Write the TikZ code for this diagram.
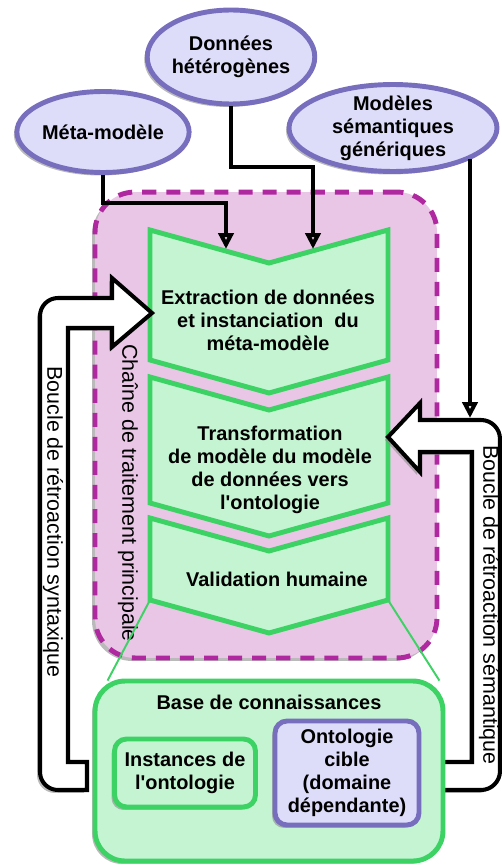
\documentclass[tikz,border=0pt]{standalone}
\usepackage{fontspec}
\setmainfont{Liberation Sans}
\usetikzlibrary{arrows.meta,shadows,calc,shapes.geometric}
\definecolor{ellfill}{RGB}{221,221,250}
\definecolor{elldraw}{RGB}{120,110,190}
\definecolor{grfill}{RGB}{196,244,210}
\definecolor{grdraw}{RGB}{60,210,100}
\definecolor{pkfill}{RGB}{233,198,229}
\definecolor{pkdraw}{RGB}{175,40,160}
\begin{document}
\begin{tikzpicture}[x=0.02cm,y=-0.02cm,
  shad/.style={drop shadow={shadow xshift=-1.7pt,shadow yshift=-1.7pt,fill=black!45,opacity=0.6}},
  lab/.style={font=\fontsize{11.34}{13.04}\selectfont\bfseries,align=center},
  vlab/.style={font=\fontsize{12.2}{14}\selectfont,rotate=-90},
  ell/.style={ellipse,draw=elldraw,fill=ellfill,line width=2.8pt,inner sep=0pt,shad,lab},
  chev/.style={draw=grdraw,fill=grfill,line width=2.8pt,line join=miter},
  gbox/.style={draw=grdraw,fill=grfill,line width=2.8pt,shad,lab},
  loop/.style={draw=black,fill=white,line width=2.3pt,shad},
  conn/.style={line width=2.3pt,-{Triangle[open,length=9pt,width=8.5pt]}},
  link/.style={draw=grdraw,line width=1.1pt}]
\useasboundingbox (0,0) rectangle (501,865);

% main chain
\node[draw=pkdraw,fill=pkfill,line width=2.8pt,dash pattern=on 8pt off 5.7pt,
  rounded corners=0.8cm,minimum width=6.84cm,minimum height=9.32cm,shad] (chain) at (266,425) {};
\node[vlab] (chainlab) at (128,493) {Chaîne de traitement principale};

\foreach \tp/\bt/\nm in {230/360/ca,377/503/cb,518/600/cc} {
  \draw[chev] (150,\tp) -- (269,\tp+33) -- (388,\tp) -- (388,\bt)
    coordinate (\nm se) -- (269,\bt+33) -- (150,\bt) coordinate (\nm sw) -- cycle;
}
\node[lab] (extr) at (268,320) {Extraction de données\\et instanciation \ du\\méta-modèle};
\node[lab] (transf) at (270,470) {Transformation\\de modèle du modèle\\de données vers\\l\textquotesingle ontologie};
\node[lab] (valid) at (277,579) {Validation humaine};

% inputs
\node[ell,minimum width=3.42cm,minimum height=1.62cm] (meta) at (103,132) {Méta-modèle};
\node[ell,minimum width=3.32cm,minimum height=1.88cm] (donnees) at (231,57) {Données\\hétérogènes};
\node[ell,minimum width=4.16cm,minimum height=1.74cm,inner ysep=-1.5pt] (semant) at (393,128) {Modèles\\sémantiques\\génériques};

% feedback loops
\draw[loop] (87,762) -- (68,762) -- (68,328) -- (112,328) -- (112,347) -- (152,313)
  -- (112,278) -- (112,298) [rounded corners=0.36cm] -- (40,298) -- (40,790) [sharp corners] -- (87,790) -- cycle;
\draw[loop] (442,762) -- (472,762) -- (472,452) -- (420,452) -- (420,472) -- (388,437)
  -- (420,403) -- (420,420) [rounded corners=0.38cm] -- (500,420) -- (500,790) [sharp corners] -- (442,790) -- cycle;
\node[vlab] (synt) at (53,522) {Boucle de rétroaction syntaxique};
\node[vlab] (sem) at (489,605) {Boucle de rétroaction sémantique};

\coordinate (inA) at (226,249);
\coordinate (inB) at (313,249);
\coordinate (inC) at (470,418);
\draw[conn] (meta.south) -- ++(0,28) -| (inA);
\draw[conn] (donnees.south) -- ++(0,61) -| (inB);
\draw[conn] (inC |- semant.-22) -- (inC);

% knowledge base
\node[gbox,rounded corners=0.6cm,minimum width=6.96cm,minimum height=3.6cm] (base) at (269,771) {};
\draw[link] (ccsw) -- ($(base.north west)+(15,2)$);
\draw[link] (ccse) -- ($(base.north east)+(-6,2)$);
\node[lab] (basetitle) at (269,702) {Base de connaissances};
\node[gbox,rounded corners=0.24cm,minimum width=2.82cm,minimum height=1.36cm] (inst) at (185,773) {Instances de\\l\textquotesingle ontologie};
\node[gbox,draw=elldraw,fill=ellfill,rounded corners=0.24cm,minimum width=2.88cm,minimum height=2.08cm] (onto) at (347,773) {Ontologie\\cible\\(domaine\\dépendante)};
\end{tikzpicture}
\end{document}
